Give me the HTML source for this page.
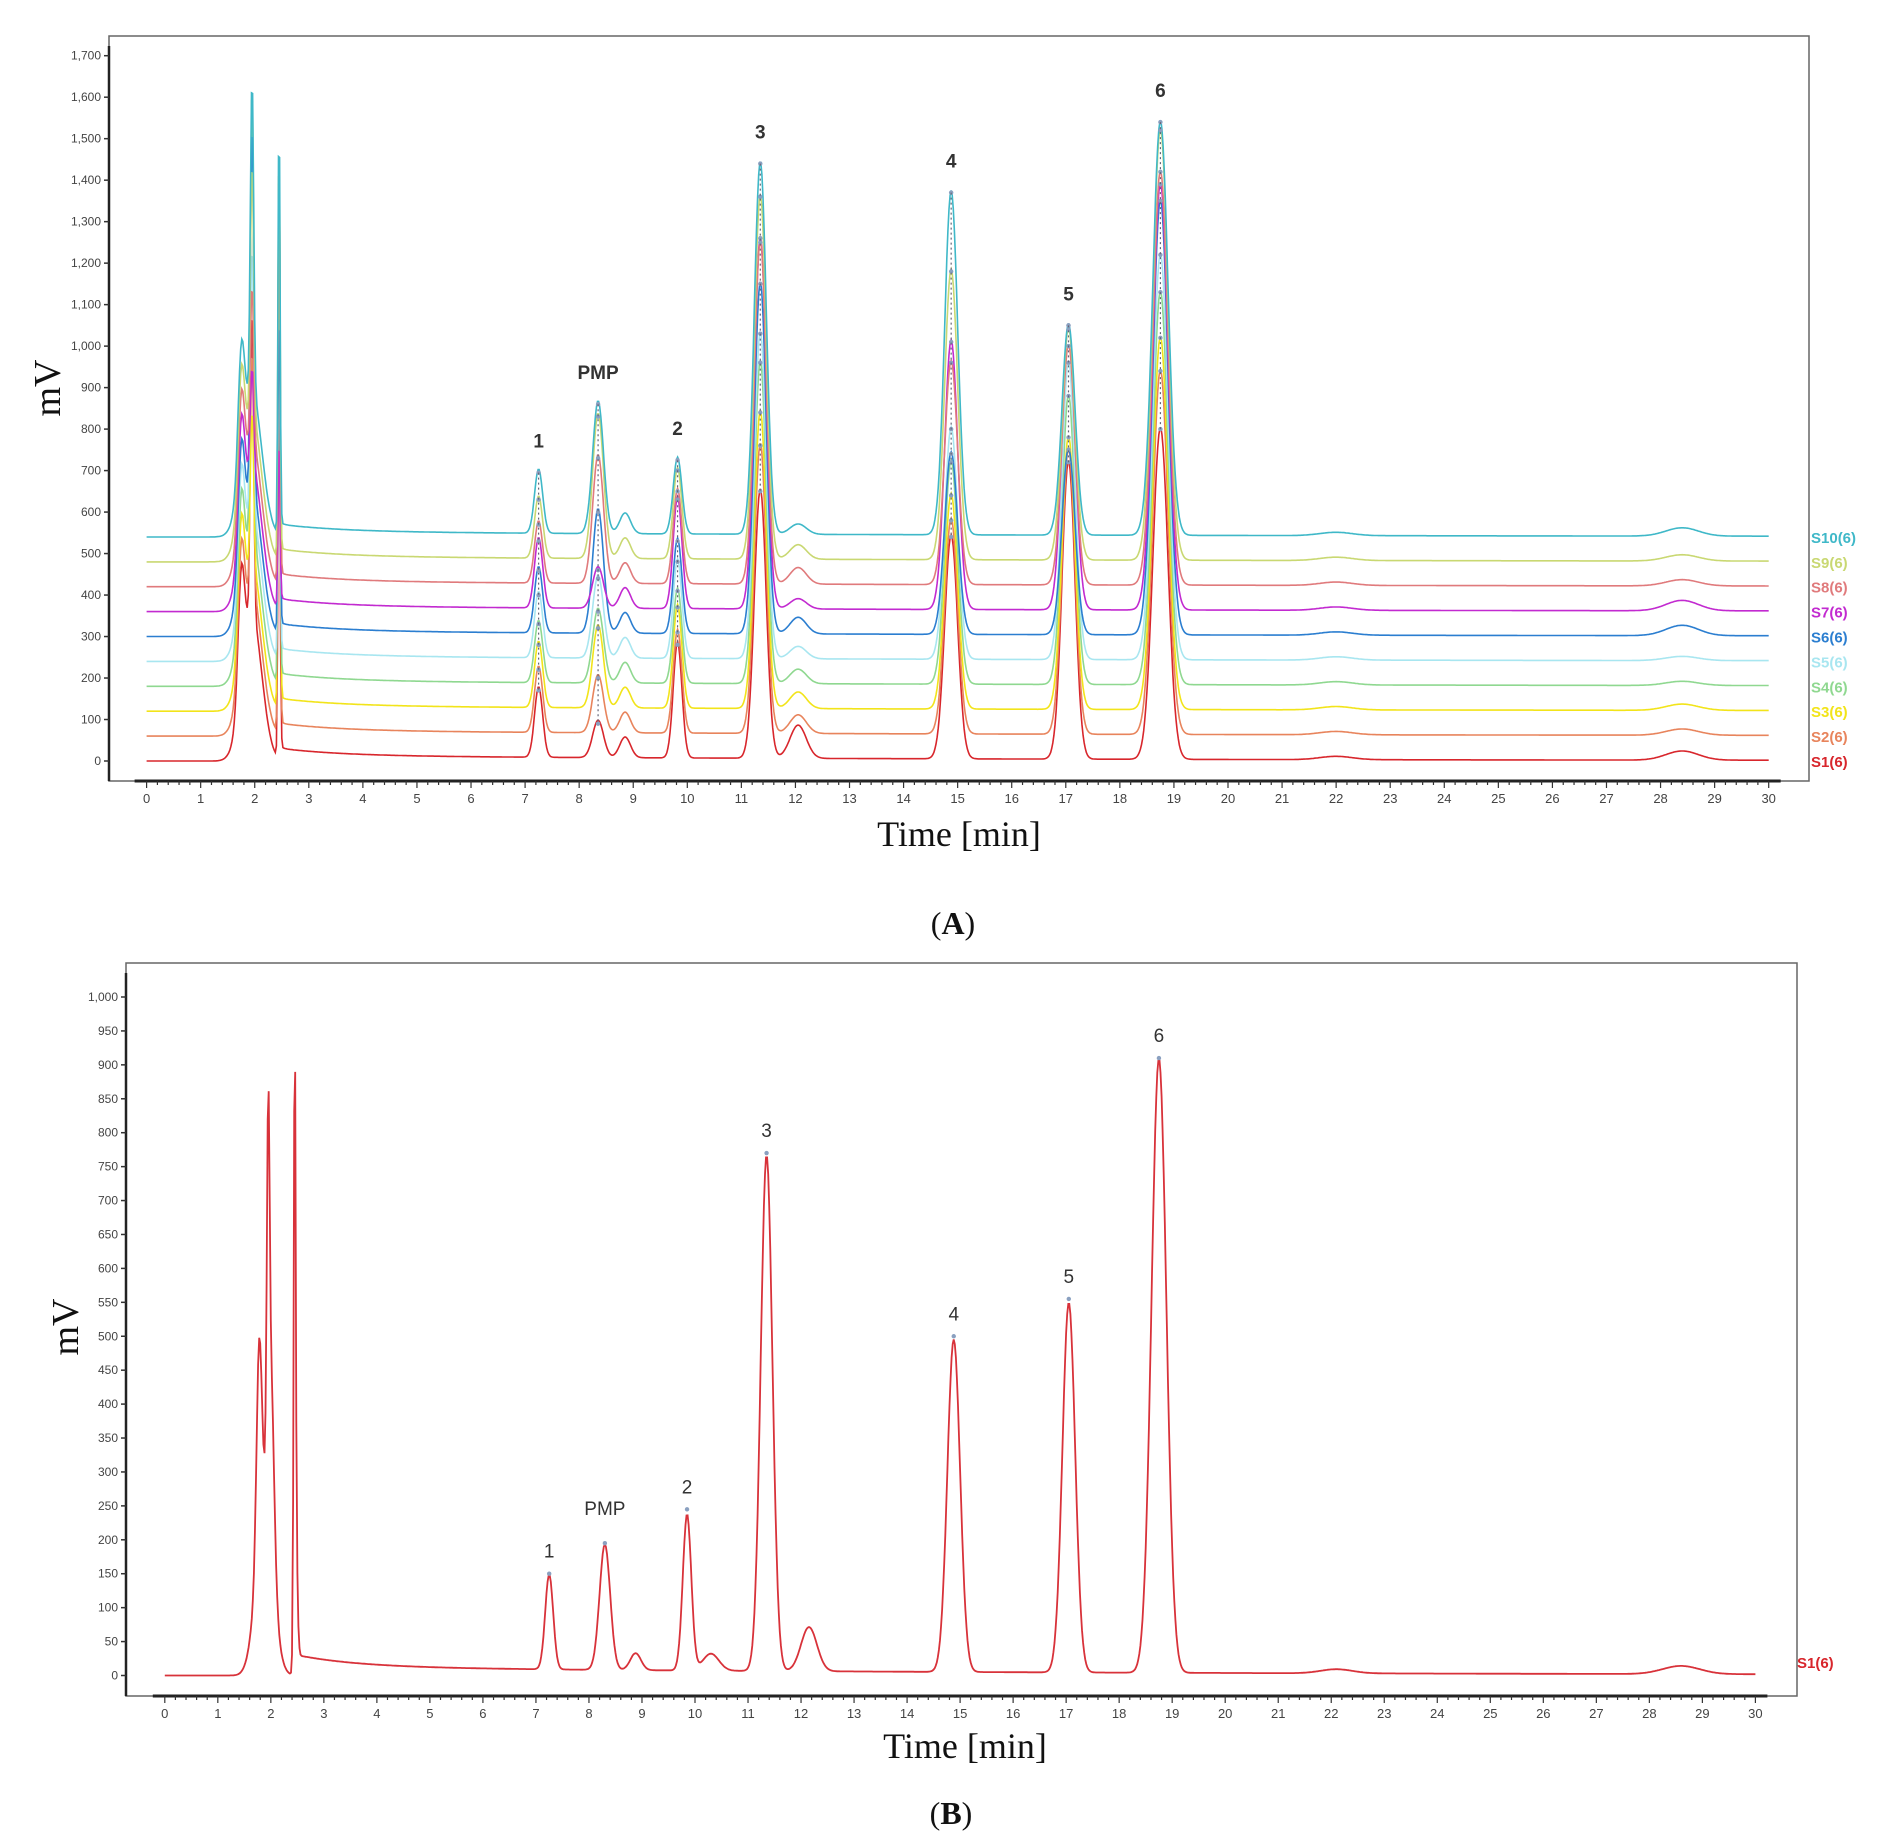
<!DOCTYPE html>
<html><head><meta charset="utf-8"><style>
html,body{margin:0;padding:0;background:#fff;}
svg{display:block;font-family:"Liberation Sans",sans-serif;}
</style></head><body>
<svg id="fig" width="1890" height="1837" viewBox="0 0 1890 1837" xmlns="http://www.w3.org/2000/svg">
<g id="chartA"></g>
<g id="chartB"></g>
</svg>
<script>
// ---- data ----
const peakTimes = [7.25, 8.35, 9.82, 11.35, 14.88, 17.05, 18.75];
const peakSigma = [0.075, 0.1, 0.08, 0.11, 0.12, 0.12, 0.14];
const seriesNames = ["S1(6)","S2(6)","S3(6)","S4(6)","S5(6)","S6(6)","S7(6)","S8(6)","S9(6)","S10(6)"];
const seriesColors = ["#d8262c","#e8845c","#f2e41a","#8fd890","#a8e6f0","#2b7ed0","#c22ad0","#e07a7c","#c9d872","#3fb8c8"];
const seriesOffsets = [0,60,120,180,240,300,360,420,480,540];
const seriesHeights = [
 [170, 90, 280, 650, 540, 720, 800],
 [160,140, 250, 700, 520, 690, 880],
 [160,200, 250, 720, 520, 660, 900],
 [150,180, 230, 780, 540, 700, 950],
 [160,200, 240, 790, 560, 720, 980],
 [160,300, 230, 850, 440, 450,1050],
 [170,100, 270, 900, 650, 690,1030],
 [150,310, 230, 830, 540, 580,1000],
 [150,350, 220, 880, 700, 560,1040],
 [155,320, 185, 900, 830, 510,1000]
];
const solventSpikeA = [1150,1050,900,1700,1300,1600,1000,1200,1500,1700];
const solventSpikeB = [1100,1690,1690,1300,1200,1250,900,1600,1650,1700];
const bumpA = [80,45,40,35,30,40,25,40,35,25];
const lateBumpA = [22,15,15,10,10,25,25,15,15,20];
const yTicksA = [0,100,200,300,400,500,600,700,800,900,1000,1100,1200,1300,1400,1500,1600,1700];
const yTicksB = [0,50,100,150,200,250,300,350,400,450,500,550,600,650,700,750,800,850,900,950,1000];
const xTicks = [0,1,2,3,4,5,6,7,8,9,10,11,12,13,14,15,16,17,18,19,20,21,22,23,24,25,26,27,28,29,30];
const labelsPeaks = ["1","PMP","2","3","4","5","6"];
// chart B (S1 alone) peaks: [time, height, sigma]
const bPeaksT = [1.78,1.95,2.0,1.88,2.45,2.47,7.25,8.3,8.88,9.85,10.3,11.35,12.15,14.88,17.05,18.75,22.1,28.6];
const bPeaksH = [300,460,280,240,850,170,140,185,25,230,25,760,65,490,545,905,6,12];
const bPeaksS = [0.05,0.025,0.06,0.16,0.018,0.03,0.075,0.1,0.1,0.08,0.15,0.11,0.15,0.12,0.12,0.14,0.3,0.35];

const NS="http://www.w3.org/2000/svg";
function mk(parent,tag,attrs,text){const e=document.createElementNS(NS,tag);for(const k in attrs)e.setAttribute(k,attrs[k]);if(text!==undefined)e.textContent=text;parent.appendChild(e);return e;}
function gauss(t,c,h,s){const d=(t-c)/s;return h*Math.exp(-0.5*d*d);}
function drift(t){ if(t<2.5) return 0; return 18*Math.exp(-(t-2.5)/1.2)+12*Math.exp(-(t-2.5)/15); }

function axes(g,cfg){
  const {L,T,R,B,x,y,yt,fmt}=cfg;
  mk(g,'rect',{x:L,y:T,width:R-L,height:B-T,fill:'none',stroke:'#666','stroke-width':1.5,});
  mk(g,'line',{x1:L,y1:T+10,x2:L,y2:B,stroke:'#222','stroke-width':2.5,});
  mk(g,'line',{x1:x(0)-12,y1:B,x2:x(30)+12,y2:B,stroke:'#222','stroke-width':3,});
  yt.forEach(v=>{
    mk(g,'line',{x1:L-5,y1:y(v),x2:L,y2:y(v),stroke:'#333','stroke-width':1.5});
    const e=mk(g,'text',{x:L-8,y:y(v)+4,'text-anchor':'end','font-size':12,fill:'#444'},fmt(v));
    
  });
  for(let i=0;i<=150;i++){const t=i*0.2;mk(g,'line',{x1:x(t),y1:B,x2:x(t),y2:B+(i%5==0?7:4),stroke:'#333','stroke-width':1.2});}
  xTicks.forEach(v=>{
    const e=mk(g,'text',{x:x(v),y:B+22,'text-anchor':'middle','font-size':13,fill:'#444'},String(v));
    
  });
}
function fmtK(v){return v>=1000?(Math.floor(v/1000)+','+String(v%1000).padStart(3,'0')):String(v);}

// ---- chart A ----
(function(){
  const g=document.getElementById('chartA');
  const L=109,T=36,R=1809,B=781;
  const x=t=>146.6+t*54.07, y=v=>761-v*(761-55.7)/1700;
  axes(g,{L,T,R,B,x,y,yt:yTicksA,fmt:fmtK});
  for(let s=0;s<10;s++){
    let d='';
    for(let i=0;i<=1500;i++){
      const t=i*0.02;
      let v=seriesOffsets[s]+drift(t);
      peakTimes.forEach((c,k)=>{v+=gauss(t,c,seriesHeights[s][k],peakSigma[k]);});
      v+=gauss(t,1.75,280,0.06)+gauss(t,1.95,solventSpikeA[s]-seriesOffsets[s]-400,0.03)+gauss(t,1.95,350,0.18);
      v+=gauss(t,2.45,solventSpikeB[s]-seriesOffsets[s]-100,0.018);
      v+=gauss(t,8.85,50,0.1)+gauss(t,12.05,bumpA[s],0.15)+gauss(t,22,8,0.3)+gauss(t,28.4,lateBumpA[s],0.3);
      v=Math.min(v,1700);
      d+=(i?'L':'M')+x(t).toFixed(1)+' '+y(v).toFixed(1);
    }
    const p=mk(g,'path',{d,fill:'none',stroke:seriesColors[s],'stroke-width':1.6});
    
    
    const lt=mk(g,'text',{x:1811,y:y(seriesOffsets[s])+6,'font-size':15,'font-weight':'bold',fill:seriesColors[s]},seriesNames[s]);
    
  }
  peakTimes.forEach((c,k)=>{
    let mx=0,mn=1e9;
    for(let s=0;s<10;s++){const v=seriesOffsets[s]+seriesHeights[s][k];mx=Math.max(mx,v);mn=Math.min(mn,v);
      mk(g,'circle',{cx:x(c),cy:y(v),r:2.2,fill:'#8aa0c0'});}
    mk(g,'line',{x1:x(c),y1:y(mx),x2:x(c),y2:y(mn),stroke:'#667','stroke-width':1.2,'stroke-dasharray':'2 3'});
    const e=mk(g,'text',{x:x(c),y:y(mx)-25,'text-anchor':'middle','font-size':19,'font-weight':'bold',fill:'#333'},labelsPeaks[k]);
    
  });
  const xt=mk(g,'text',{x:959,y:846,'text-anchor':'middle','font-size':36,'font-family':'Liberation Serif,serif',fill:'#111'},'Time [min]');
  
  const yt=mk(g,'text',{x:0,y:0,transform:'translate(60,388) rotate(-90)','text-anchor':'middle','font-size':38,'font-family':'Liberation Serif,serif',fill:'#111'},'mV');
  
  const pl=mk(g,'text',{x:953,y:934,'text-anchor':'middle','font-size':32,'font-family':'Liberation Serif,serif',fill:'#111'});
  pl.innerHTML='(<tspan font-weight="bold">A</tspan>)';
  
})();

// ---- chart B ----
(function(){
  const g=document.getElementById('chartB');
  const L=126,T=963,R=1797,B=1696;
  const x=t=>164.8+t*53.02, y=v=>1675.5-v*(1675.5-997)/1000;
  axes(g,{L,T,R,B,x,y,yt:yTicksB,fmt:fmtK});
  let d='';
  for(let i=0;i<=1500;i++){
    const t=i*0.02;
    let v=drift(t);
    bPeaksT.forEach((c,k)=>{v+=gauss(t,c,bPeaksH[k],bPeaksS[k]);});
    d+=(i?'L':'M')+x(t).toFixed(1)+' '+y(v).toFixed(1);
  }
  const p=mk(g,'path',{d,fill:'none',stroke:'#d8323a','stroke-width':1.8});
  
  const lab=[[6,150],[7,195],[9,245],[11,770],[13,500],[14,555],[15,910]];
  lab.forEach(([k,h],i)=>{
    const c=bPeaksT[k];
    mk(g,'circle',{cx:x(c),cy:y(h),r:2.2,fill:'#8aa0c0'});
    const e=mk(g,'text',{x:x(c),y:y(h)-(i==1?28:16),'text-anchor':'middle','font-size':19,fill:'#333'},labelsPeaks[i]);
    
  });
  const lt=mk(g,'text',{x:1797,y:1668,'font-size':15,'font-weight':'bold',fill:'#d8262c'},'S1(6)');
  
  const xt=mk(g,'text',{x:965,y:1758,'text-anchor':'middle','font-size':36,'font-family':'Liberation Serif,serif',fill:'#111'},'Time [min]');
  
  const yt=mk(g,'text',{x:0,y:0,transform:'translate(78,1327) rotate(-90)','text-anchor':'middle','font-size':38,'font-family':'Liberation Serif,serif',fill:'#111'},'mV');
  
  const pl=mk(g,'text',{x:951,y:1824,'text-anchor':'middle','font-size':32,'font-family':'Liberation Serif,serif',fill:'#111'});
  pl.innerHTML='(<tspan font-weight="bold">B</tspan>)';
  
})();
</script>
</body></html>
